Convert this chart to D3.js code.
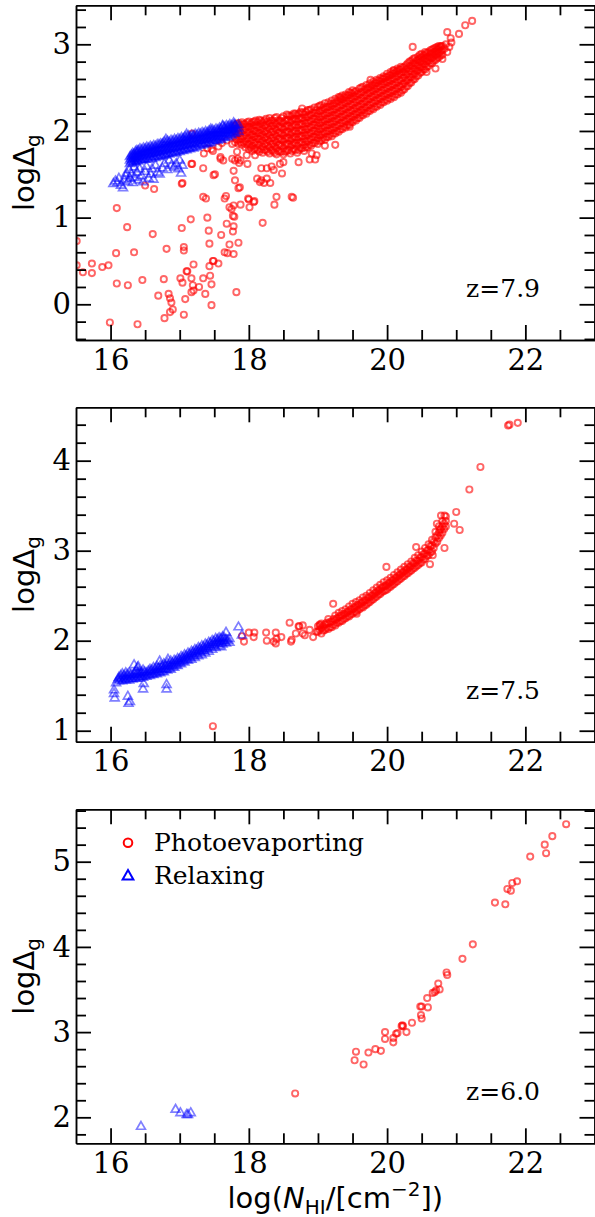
<!DOCTYPE html>
<html><head><meta charset="utf-8">
<script src="https://cdn.jsdelivr.net/npm/d3@7"></script>
<style>body{margin:0;background:#fff}svg{display:block}</style></head>
<body><svg id="c" width="595" height="1217"></svg>
<script>
// ---------- tick values ----------
const xMajor=[16,18,20,22];
const xMinor=[16.5,17,17.5,18.5,19,19.5,20.5,21,21.5,22.5];
const y1Major=[0,1,2,3];
const y1Minor=[-0.4,-0.2,0.2,0.4,0.6,0.8,1.2,1.4,1.6,1.8,2.2,2.4,2.6,2.8,3.2,3.4];
const y2Major=[1,2,3,4];
const y2Minor=[1.2,1.4,1.6,1.8,2.2,2.4,2.6,2.8,3.2,3.4,3.6,3.8,4.2,4.4];
const y3Major=[2,3,4,5];
const y3Minor=[1.8,2.2,2.4,2.6,2.8,3.2,3.4,3.6,3.8,4.2,4.4,4.6,4.8,5.2,5.4,5.6];
const zLabels=["z=7.9","z=7.5","z=6.0"];
const legendLabels=["Photoevaporting","Relaxing"];

// ---------- z=7.9 : Photoevaporating (dense cloud as columns x:[y...]) ----------
const p1RedCols=[
[17.80,[1.87,1.93,2.00,2.06]],[17.85,[1.85,1.90,1.97,2.03,2.09]],[17.90,[1.84,1.91,1.98,2.05,2.10]],
[17.95,[1.81,1.88,1.95,2.02,2.08]],[18.00,[1.79,1.85,1.92,1.99,2.05,2.11]],[18.05,[1.77,1.83,1.90,1.96,2.03,2.10]],
[18.10,[1.80,1.87,1.94,2.00,2.07,2.12]],[18.15,[1.76,1.84,1.91,1.98,2.05,2.13]],[18.20,[1.75,1.82,1.89,1.96,2.03,2.10]],
[18.25,[1.78,1.86,1.93,2.00,2.07,2.14]],[18.30,[1.74,1.81,1.88,1.95,2.02,2.09,2.15]],[18.35,[1.77,1.85,1.92,1.99,2.06,2.12]],
[18.40,[1.73,1.80,1.87,1.94,2.01,2.08,2.16]],[18.45,[1.76,1.84,1.91,1.98,2.05,2.12]],[18.50,[1.73,1.80,1.88,1.95,2.02,2.09,2.17]],
[18.55,[1.77,1.85,1.92,1.99,2.06,2.13,2.19]],[18.60,[1.74,1.82,1.89,1.96,2.03,2.10,2.17]],[18.65,[1.79,1.86,1.93,2.00,2.07,2.14,2.20]],
[18.70,[1.75,1.83,1.90,1.97,2.04,2.11,2.18]],[18.75,[1.80,1.87,1.94,2.01,2.08,2.15,2.22]],[18.80,[1.77,1.84,1.91,1.98,2.05,2.12,2.19]],
[18.85,[1.81,1.88,1.95,2.02,2.09,2.16,2.24]],[18.90,[1.83,1.90,1.97,2.04,2.11,2.18,2.25]],[18.95,[1.86,1.93,2.00,2.07,2.14,2.21,2.27]],
[19.00,[1.85,1.92,1.99,2.06,2.13,2.20,2.28]],[19.05,[1.89,1.96,2.03,2.10,2.17,2.24,2.30]],[19.10,[1.90,1.97,2.04,2.11,2.18,2.25,2.32]],
[19.15,[1.93,2.00,2.07,2.14,2.21,2.28,2.33]],[19.20,[1.94,2.01,2.08,2.15,2.22,2.29,2.35]],[19.25,[1.97,2.04,2.11,2.18,2.25,2.32,2.37]],
[19.30,[1.99,2.06,2.13,2.20,2.27,2.34,2.39]],[19.35,[2.02,2.09,2.16,2.23,2.30,2.36,2.41]],[19.40,[2.04,2.11,2.18,2.25,2.32,2.38,2.42]],
[19.45,[2.07,2.14,2.21,2.28,2.35,2.41,2.45]],[19.50,[2.10,2.16,2.23,2.30,2.37,2.43,2.47]],[19.55,[2.12,2.19,2.26,2.33,2.40,2.46]],
[19.60,[2.15,2.21,2.28,2.35,2.42,2.49]],[19.65,[2.18,2.24,2.31,2.38,2.45,2.51]],[19.70,[2.20,2.27,2.34,2.41,2.48,2.53]],
[19.75,[2.23,2.30,2.37,2.44,2.50,2.55]],[19.80,[2.25,2.32,2.39,2.46,2.52,2.57]],[19.85,[2.28,2.35,2.42,2.49,2.55,2.59]],
[19.90,[2.30,2.37,2.44,2.51,2.57,2.61]],[19.95,[2.33,2.40,2.47,2.54,2.60,2.63]],[20.00,[2.35,2.42,2.49,2.56,2.62,2.66]],
[20.05,[2.37,2.44,2.51,2.58,2.64,2.68]],[20.10,[2.39,2.46,2.53,2.60,2.66,2.70]],[20.15,[2.42,2.49,2.56,2.63,2.69,2.72]],
[20.20,[2.44,2.51,2.58,2.65,2.71,2.74]],[20.25,[2.48,2.55,2.62,2.68,2.74]],[20.30,[2.52,2.59,2.66,2.72,2.78]],
[20.35,[2.56,2.62,2.69,2.75,2.81]],[20.40,[2.60,2.66,2.72,2.78,2.84]],[20.45,[2.64,2.70,2.76,2.82,2.86]],
[20.50,[2.68,2.74,2.80,2.85,2.89]],[20.55,[2.71,2.77,2.83,2.88,2.91]],[20.60,[2.75,2.81,2.86,2.91]],
[20.65,[2.78,2.84,2.89,2.94]],[20.70,[2.82,2.87,2.92,2.96]],[20.75,[2.85,2.90,2.95]],[20.80,[2.88,2.93,2.98]]
];
const p1RedCols2=[
[17.825,[1.90,1.96,2.03,2.08]],[17.875,[1.87,1.94,2.01,2.07]],[17.925,[1.86,1.94,2.01,2.08]],
[17.975,[1.84,1.91,1.98,2.05,2.10]],[18.025,[1.81,1.88,1.95,2.02,2.08]],[18.075,[1.79,1.86,1.93,2.00,2.06,2.11]],
[18.125,[1.78,1.84,1.91,1.97,2.04,2.10]],[18.175,[1.79,1.87,1.94,2.01,2.08,2.12]],[18.225,[1.78,1.85,1.92,1.99,2.06,2.12]],
[18.275,[1.76,1.83,1.90,1.97,2.04,2.11]],[18.325,[1.78,1.85,1.92,1.99,2.06,2.12]],[18.375,[1.75,1.82,1.89,1.96,2.03,2.09,2.15]],
[18.425,[1.77,1.84,1.91,1.98,2.05,2.12]],[18.475,[1.76,1.83,1.90,1.97,2.04,2.10,2.15]],[18.525,[1.76,1.84,1.91,1.98,2.05,2.12]],
[18.575,[1.78,1.85,1.92,1.99,2.06,2.13,2.18]],[18.625,[1.77,1.84,1.91,1.98,2.05,2.12,2.18]],[18.675,[1.78,1.86,1.93,2.00,2.07,2.14,2.20]],
[18.725,[1.78,1.86,1.93,2.00,2.07,2.14,2.20]],[18.775,[1.80,1.87,1.94,2.01,2.08,2.15,2.21]],[18.825,[1.81,1.88,1.95,2.02,2.09,2.16,2.22]],
[18.875,[1.84,1.91,1.98,2.05,2.12,2.19,2.24]],[18.925,[1.86,1.93,2.00,2.07,2.14,2.21]],[18.975,[1.89,1.96,2.03,2.10,2.17,2.24]],
[19.025,[1.88,1.95,2.02,2.09,2.16,2.23,2.29]],[19.075,[1.92,1.99,2.06,2.13,2.20,2.27]],[19.125,[1.93,2.00,2.07,2.14,2.21,2.28]],
[19.175,[1.96,2.03,2.10,2.17,2.24,2.31]],[19.225,[1.97,2.04,2.11,2.18,2.25,2.32]],[19.275,[2.00,2.07,2.14,2.21,2.28,2.35]],
[19.325,[2.02,2.09,2.16,2.23,2.30,2.37]],[19.375,[2.05,2.12,2.19,2.26,2.33,2.39]],[19.425,[2.07,2.14,2.21,2.28,2.35,2.41]],
[19.475,[2.10,2.17,2.24,2.31,2.38,2.44]],[19.525,[2.13,2.19,2.26,2.33,2.40,2.45]],[19.575,[2.15,2.22,2.29,2.36,2.43]],
[19.625,[2.18,2.24,2.31,2.38,2.45,2.50]],[19.675,[2.21,2.27,2.34,2.41,2.48]],[19.725,[2.23,2.30,2.37,2.44,2.50]],
[19.775,[2.26,2.33,2.40,2.47,2.53]],[19.825,[2.28,2.35,2.42,2.49,2.55]],[19.875,[2.31,2.38,2.45,2.52,2.58]],
[19.925,[2.33,2.40,2.47,2.54,2.60]],[19.975,[2.36,2.43,2.50,2.57,2.62]],[20.025,[2.38,2.45,2.52,2.59,2.64]],
[20.075,[2.40,2.47,2.54,2.61,2.66]],[20.125,[2.42,2.49,2.56,2.63,2.68]],[20.175,[2.45,2.52,2.59,2.66,2.71]],
[20.225,[2.47,2.54,2.61,2.68,2.73]],[20.275,[2.51,2.58,2.65,2.71,2.76]],[20.325,[2.55,2.62,2.69,2.75,2.80]],
[20.375,[2.59,2.65,2.72,2.78,2.83]],[20.425,[2.63,2.69,2.75,2.81]],[20.475,[2.67,2.73,2.79,2.84,2.88]],
[20.525,[2.71,2.77,2.82,2.87]],[20.575,[2.74,2.80,2.85,2.90]],[20.625,[2.78,2.84,2.89,2.93]],
[20.675,[2.81,2.86,2.91,2.95]],[20.725,[2.84,2.89,2.94,2.97]],[20.775,[2.87,2.92,2.97]]
];
const p1RedScatter=[
[15.51,0.73],[15.51,0.45],[15.60,0.37],[15.73,0.47],[15.73,0.36],[15.88,0.43],[15.97,0.45],[15.99,-0.21],
[16.09,1.11],[16.08,0.59],[16.09,0.24],[16.24,0.89],[16.25,0.22],[16.34,0.60],[16.39,-0.23],[16.46,0.28],
[16.50,1.37],[16.63,1.33],[16.61,0.81],[16.69,0.10],[16.77,0.29],[16.78,-0.16],[16.81,0.64],[16.84,0.12],
[16.86,0.07],[16.88,0.02],[16.90,-0.06],[16.86,-0.09],[17.01,0.30],[17.04,0.25],[17.03,0.88],[17.04,1.40],
[17.06,0.66],[17.06,0.62],[17.08,0.06],[17.06,-0.12],[17.10,0.38],[17.11,0.38],[17.17,0.30],[17.16,0.98],
[17.20,0.46],[17.19,0.22],[17.20,0.16],[17.17,0.14],[17.17,1.62],[17.28,0.20],[17.34,0.30],[17.37,0.12],
[17.34,1.57],[17.34,1.24],[17.38,1.22],[17.40,1.00],[17.42,0.85],[17.43,0.70],[17.44,0.33],[17.46,-0.01],
[17.46,0.23],[17.43,0.44],[17.48,0.50],[17.49,0.50],[17.56,0.47],[17.51,1.50],[17.60,0.80],[17.65,0.60],
[17.69,0.59],[17.78,0.58],[17.72,0.69],[17.85,0.71],[17.82,0.14],[17.68,0.93],[17.78,0.90],[17.77,0.84],
[17.79,1.01],[17.77,1.02],[17.75,1.10],[17.72,1.12],[17.78,1.14],[17.88,1.15],[18.01,1.12],[17.99,1.22],
[18.08,1.19],[17.67,1.25],[17.65,1.22],[17.80,1.43],[17.87,1.35],[18.20,0.94],[18.12,1.45],[18.18,1.43],
[18.22,1.40],[17.78,1.54],[17.48,1.77],[17.59,1.68],[17.63,1.66],[17.76,1.68],[17.84,1.68],[17.86,1.63],
[17.98,1.62],[18.18,1.57],[18.40,1.24],[18.37,1.15],[18.62,1.24],[18.16,1.41],[18.26,1.45],[18.31,1.40],
[18.26,1.57],[18.33,1.59],[18.36,1.55],[18.48,1.51],[18.45,1.62],[18.50,1.64],[18.64,1.23],[18.72,1.64],
[18.88,1.67],[18.96,1.67],[18.98,1.72],[18.91,1.74],[19.25,1.84],[19.10,1.83],[17.18,1.97],[17.35,1.74],
[17.40,1.80],[17.46,1.79],[17.56,1.82],[17.59,1.70],[17.61,1.86],[17.49,1.49],[17.68,1.89],[17.76,1.85],
[17.83,1.76],[17.88,1.66],[17.80,1.66],[17.97,1.72],[18.09,1.72],[17.85,1.34],[18.00,1.21],[18.07,1.18],
[17.18,1.62],[17.03,1.39],[18.77,2.26],[19.32,2.39],[19.76,2.59],[20.09,2.70],[20.37,2.97],[19.46,2.05],
[20.87,3.14],[20.92,3.07],[20.93,3.02],[20.87,2.91],[21.04,3.12],[21.13,3.22],[21.23,3.27],[20.75,2.98],
[20.78,2.98],[20.57,2.68],[20.85,3.00],[20.83,2.95],[20.90,2.97],[20.70,2.72],[20.80,2.83]
];
// ---------- z=7.9 : Relaxing ----------
const p1BlueCols=[
[16.28,[1.62,1.66,1.70]],[16.32,[1.63,1.67,1.71,1.74]],[16.36,[1.64,1.68,1.72,1.76]],[16.40,[1.65,1.69,1.73,1.77]],
[16.45,[1.66,1.70,1.74,1.78]],[16.50,[1.67,1.71,1.75,1.79]],[16.55,[1.67,1.72,1.76,1.80]],[16.60,[1.68,1.73,1.77,1.81]],
[16.65,[1.69,1.74,1.78,1.82]],[16.70,[1.70,1.75,1.79,1.84]],[16.75,[1.71,1.76,1.80,1.85]],[16.80,[1.72,1.77,1.81,1.86]],
[16.85,[1.73,1.78,1.82,1.87]],[16.90,[1.74,1.79,1.84,1.88]],[16.95,[1.75,1.80,1.85,1.89]],[17.00,[1.76,1.81,1.86,1.90]],
[17.05,[1.77,1.82,1.87,1.91]],[17.10,[1.78,1.83,1.88,1.92]],[17.15,[1.79,1.84,1.89,1.93]],[17.20,[1.80,1.85,1.90,1.94]],
[17.25,[1.81,1.86,1.91,1.95]],[17.30,[1.83,1.88,1.92,1.96]],[17.35,[1.84,1.89,1.93,1.97]],[17.40,[1.85,1.90,1.94,1.98]],
[17.45,[1.86,1.91,1.95,1.99]],[17.50,[1.88,1.92,1.96,2.00]],[17.55,[1.89,1.93,1.97,2.01]],[17.60,[1.90,1.94,1.98,2.02]],
[17.65,[1.92,1.96,2.00,2.04]],[17.70,[1.93,1.97,2.01,2.05]],[17.75,[1.95,1.99,2.03,2.06]],[17.80,[1.97,2.01,2.05,2.07]],
[17.85,[1.99,2.03,2.07]]
];
const p1BlueCols2=[
[16.30,[1.64,1.68,1.72]],[16.34,[1.65,1.69,1.73]],[16.38,[1.66,1.70,1.74,1.77]],[16.425,[1.67,1.71,1.75,1.79]],
[16.475,[1.68,1.72,1.76,1.80]],[16.525,[1.69,1.73,1.77,1.81]],[16.575,[1.70,1.74,1.78,1.82]],[16.625,[1.70,1.75,1.79,1.83]],
[16.675,[1.71,1.76,1.80,1.84]],[16.725,[1.72,1.77,1.81,1.85]],[16.775,[1.73,1.78,1.83,1.87]],[16.825,[1.74,1.79,1.84,1.88]],
[16.875,[1.75,1.80,1.85,1.89]],[16.925,[1.76,1.81,1.86,1.90]],[16.975,[1.77,1.82,1.87,1.91]],[17.025,[1.78,1.83,1.88,1.92]],
[17.075,[1.79,1.84,1.89,1.93]],[17.125,[1.80,1.85,1.90,1.94]],[17.175,[1.81,1.86,1.91,1.95]],[17.225,[1.82,1.87,1.92,1.96]],
[17.275,[1.84,1.89,1.93,1.97]],[17.325,[1.85,1.90,1.94,1.98]],[17.375,[1.86,1.91,1.95,1.99]],[17.425,[1.87,1.92,1.96,2.00]],
[17.475,[1.89,1.93,1.97,2.01]],[17.525,[1.90,1.94,1.98,2.02]],[17.575,[1.91,1.95,1.99,2.03]],[17.625,[1.93,1.97,2.01,2.05]],
[17.675,[1.94,1.98,2.02,2.06]],[17.725,[1.96,2.00,2.04,2.07]],[17.775,[1.98,2.02,2.06]]
];
const p1BlueScatter=[
[16.04,1.39],[16.07,1.42],[16.10,1.40],[16.12,1.45],[16.15,1.37],[16.18,1.34],[16.20,1.43],[16.22,1.48],
[16.23,1.51],[16.25,1.41],[16.27,1.55],[16.28,1.45],[16.30,1.50],[16.32,1.40],[16.34,1.58],[16.35,1.46],
[16.38,1.52],[16.40,1.43],[16.42,1.56],[16.45,1.48],[16.47,1.41],[16.50,1.53],[16.52,1.59],[16.55,1.45],
[16.58,1.50],[16.60,1.56],[16.62,1.44],[16.65,1.60],[16.68,1.52],[16.71,1.50],[16.75,1.57],[16.78,1.62],
[16.82,1.55],[16.85,1.66],[16.88,1.60],[16.92,1.58],[16.95,1.62],[16.98,1.56],[17.02,1.51],[17.04,1.60],
[17.00,1.66],[16.80,1.90],[17.10,1.96],[17.45,2.02],[17.62,2.06],[17.78,2.09]
];

// ---------- z=7.5 ----------
const p2RedCols=[
[19.00,[2.10,2.16]],[19.05,[2.08,2.14,2.19]],[19.10,[2.12,2.18]],[19.15,[2.13,2.19,2.24]],[19.20,[2.15,2.21]],
[19.25,[2.17,2.23,2.28]],[19.30,[2.20,2.26,2.31]],[19.35,[2.22,2.28,2.33]],[19.40,[2.25,2.30,2.35]],
[19.45,[2.27,2.33,2.38]],[19.50,[2.30,2.35,2.41]],[19.55,[2.32,2.38,2.43]],[19.60,[2.35,2.40,2.45]],
[19.65,[2.37,2.43,2.48]],[19.70,[2.40,2.45,2.50]],[19.75,[2.43,2.48,2.53]],[19.80,[2.46,2.51,2.56]],
[19.85,[2.49,2.54,2.59]],[19.90,[2.52,2.57,2.62]],[19.95,[2.55,2.60,2.65]],[20.00,[2.57,2.62,2.67]],
[20.05,[2.60,2.65,2.70]],[20.10,[2.63,2.68,2.73]],[20.15,[2.66,2.71,2.76]],[20.20,[2.69,2.74,2.79]],
[20.25,[2.72,2.77,2.82]],[20.30,[2.75,2.80,2.85]],[20.35,[2.78,2.83,2.88]],[20.40,[2.81,2.86,2.92]],
[20.45,[2.84,2.89,2.95]],[20.50,[2.87,2.93,2.99]],[20.55,[2.91,2.97,3.03]],[20.60,[2.95,3.01,3.07]],
[20.65,[2.99,3.06,3.12]],[20.70,[3.08,3.15,3.21]],[20.75,[3.14,3.20,3.27]],[20.80,[3.20,3.27,3.33]],
[20.85,[3.27,3.33,3.38]]
];
const p2RedCols2=[
[19.025,[2.12,2.18]],[19.075,[2.11,2.16]],[19.125,[2.14,2.20]],[19.175,[2.15,2.21]],[19.225,[2.18,2.24]],
[19.275,[2.20,2.25]],[19.325,[2.22,2.28]],[19.375,[2.24,2.30]],[19.425,[2.27,2.32]],[19.475,[2.29,2.35]],
[19.525,[2.32,2.37]],[19.575,[2.34,2.40]],[19.625,[2.37,2.42]],[19.675,[2.39,2.45]],[19.725,[2.42,2.48]],
[19.775,[2.45,2.50]],[19.825,[2.48,2.53]],[19.875,[2.51,2.56]],[19.925,[2.54,2.59]],[19.975,[2.56,2.61]],
[20.025,[2.59,2.64]],[20.075,[2.62,2.67]],[20.125,[2.65,2.70]],[20.175,[2.68,2.73]],[20.225,[2.71,2.76]],
[20.275,[2.74,2.79]],[20.325,[2.77,2.82]],[20.375,[2.80,2.86]],[20.425,[2.83,2.89]],[20.475,[2.86,2.92]],
[20.525,[2.90,2.96]],[20.575,[2.94,3.00]],[20.625,[2.98,3.05]],[20.675,[3.03,3.10]],[20.725,[3.10,3.17]],
[20.775,[3.17,3.24]],[20.825,[3.24,3.30]]
];
const p2RedScatter=[
[17.48,1.05],[17.90,2.05],[17.93,1.99],[18.00,2.09],[18.08,2.09],[18.07,2.04],[18.25,2.09],[18.39,2.09],
[18.26,2.00],[18.36,1.99],[18.39,1.97],[18.40,2.02],[18.47,2.04],[18.59,2.20],[18.61,1.99],[18.68,2.08],
[18.73,2.16],[18.78,2.17],[18.78,2.08],[18.62,2.01],[18.81,2.06],[18.98,2.10],[18.72,2.16],[18.88,2.12],
[18.93,2.04],[19.03,2.17],[19.22,2.41],[19.56,2.30],[19.99,2.82],[20.62,2.85],[20.83,3.03],[20.97,3.30],
[21.05,3.23],[21.00,3.43],[20.78,3.39],[20.83,3.39],[20.72,3.30],[20.76,3.23],[21.19,3.68],[21.35,3.93],
[21.77,4.40],[21.75,4.39],[21.89,4.42],[20.42,3.04],[20.66,2.95]
];
const p2BlueCols=[
[16.12,[1.55,1.59]],[16.17,[1.55,1.59,1.63]],[16.22,[1.56,1.60,1.64]],[16.27,[1.56,1.60,1.64]],[16.32,[1.57,1.61]],
[16.37,[1.58,1.62,1.66]],[16.42,[1.58,1.62,1.65]],[16.47,[1.59,1.63,1.67]],[16.52,[1.60,1.64]],
[16.57,[1.61,1.65,1.68]],[16.62,[1.62,1.66,1.70]],[16.67,[1.63,1.67,1.71]],[16.72,[1.64,1.68,1.72]],
[16.77,[1.65,1.69,1.74]],[16.82,[1.67,1.71,1.75]],[16.87,[1.68,1.72,1.77]],[16.92,[1.70,1.74,1.78]],
[16.97,[1.72,1.76,1.80]],[17.02,[1.74,1.78,1.82]],[17.07,[1.76,1.80,1.84]],[17.12,[1.78,1.82,1.86]],
[17.17,[1.79,1.84,1.88]],[17.22,[1.81,1.86,1.90]],[17.27,[1.83,1.88,1.92]],[17.32,[1.84,1.89,1.94]],
[17.37,[1.86,1.91,1.96]],[17.42,[1.88,1.93,1.98]],[17.47,[1.90,1.95,2.00]],[17.52,[1.92,1.97,2.02]],
[17.57,[1.94,1.99,2.03]],[17.62,[1.96,2.00,2.04]],[17.67,[1.97,2.01]],[17.72,[1.98,2.02]]
];
const p2BlueCols2=[
[16.145,[1.57,1.61]],[16.195,[1.57,1.61]],[16.245,[1.58,1.62]],[16.295,[1.58,1.62]],[16.345,[1.59,1.63]],
[16.395,[1.60,1.64]],[16.445,[1.60,1.64]],[16.495,[1.61,1.65]],[16.545,[1.62,1.66]],[16.595,[1.63,1.67]],
[16.645,[1.64,1.68]],[16.695,[1.65,1.69]],[16.745,[1.66,1.71]],[16.795,[1.68,1.72]],[16.845,[1.69,1.73]],
[16.895,[1.71,1.75]],[16.945,[1.73,1.77]],[16.995,[1.75,1.79]],[17.045,[1.77,1.81]],[17.095,[1.79,1.83]],
[17.145,[1.81,1.85]],[17.195,[1.83,1.87]],[17.245,[1.85,1.89]],[17.295,[1.87,1.91]],[17.345,[1.89,1.93]],
[17.395,[1.91,1.95]],[17.445,[1.93,1.97]],[17.495,[1.95,1.99]],[17.545,[1.97,2.01]],[17.595,[1.98,2.02]],
[17.645,[1.99,2.03]]
];
const p2BlueScatter=[
[16.05,1.45],[16.05,1.41],[16.06,1.36],[16.25,1.38],[16.26,1.30],[16.28,1.32],[16.34,1.73],[16.40,1.71],
[16.39,1.70],[16.47,1.46],[16.48,1.52],[16.81,1.51],[16.81,1.46],[16.71,1.77],[16.83,1.79],[17.60,1.93],
[17.67,2.09],[17.85,2.15],[17.90,2.06],[17.69,2.00],[16.11,1.57],[16.08,1.53]
];

// ---------- z=6.0 ----------
const p3Red=[
[22.59,5.44],[22.39,5.30],[22.28,5.20],[22.30,5.10],[22.07,5.06],[21.88,4.77],[21.81,4.75],[21.74,4.68],
[21.79,4.66],[21.56,4.52],[21.71,4.50],[21.24,4.03],[21.09,3.86],[20.86,3.70],[20.87,3.67],[20.74,3.57],
[20.76,3.50],[20.71,3.49],[20.69,3.47],[20.66,3.46],[20.58,3.40],[20.48,3.30],[20.50,3.30],[20.59,3.29],
[20.49,3.20],[20.50,3.16],[20.36,3.11],[20.21,3.07],[20.23,3.07],[20.28,3.00],[20.15,2.99],[20.13,2.98],
[20.09,2.93],[19.97,3.00],[19.97,2.92],[20.09,2.88],[19.91,2.78],[19.83,2.80],[19.73,2.76],[19.55,2.77],
[19.53,2.67],[19.66,2.62],[20.22,3.08],[18.67,2.28]
];
const p3Blue=[[16.44,1.89],[16.94,2.09],[17.01,2.05],[17.10,2.03],[17.12,2.03],[17.16,2.05]];

// ---------- drawing ----------
const flat = cols => cols.flatMap(([xv, ys]) => ys.map(yv => [xv, yv]));
const panels=[
  {top:5.3,bottom:340,yDomain:[-0.412,3.45],yMajor:y1Major,yMinor:y1Minor,
   red:flat(p1RedCols).concat(flat(p1RedCols2),p1RedScatter),
   blue:flat(p1BlueCols).concat(flat(p1BlueCols2),p1BlueScatter),z:zLabels[0]},
  {top:407.3,bottom:741.7,yDomain:[0.878,4.593],yMajor:y2Major,yMinor:y2Minor,
   red:flat(p2RedCols).concat(flat(p2RedCols2),p2RedScatter),
   blue:flat(p2BlueCols).concat(flat(p2BlueCols2),p2BlueScatter),z:zLabels[1]},
  {top:809.3,bottom:1143.3,yDomain:[1.695,5.615],yMajor:y3Major,yMinor:y3Minor,
   red:p3Red,blue:p3Blue,z:zLabels[2],legend:true}
];
const svg=d3.select("#c");
const L=76,R=594.5;
const serif="DejaVu Serif", sans="DejaVu Sans";
const tri=d3.symbol().type(d3.symbolTriangle).size(34);
const triBig=d3.symbol().type(d3.symbolTriangle).size(50);

panels.forEach((p,i)=>{
  const x=d3.scaleLinear().domain([15.5,23]).range([L,R]);
  const y=d3.scaleLinear().domain(p.yDomain).range([p.bottom,p.top]);
  const g=svg.append("g");
  g.append("clipPath").attr("id","clip"+i).append("rect")
    .attr("x",L).attr("y",p.top).attr("width",R-L).attr("height",p.bottom-p.top);
  const pts=g.append("g").attr("clip-path",`url(#clip${i})`);
  pts.selectAll("circle").data(p.red).join("circle")
    .attr("cx",d=>x(d[0])).attr("cy",d=>y(d[1])).attr("r",3.1)
    .attr("fill","none").attr("stroke","#ff0000").attr("stroke-opacity",0.6).attr("stroke-width",1.9);
  pts.selectAll("path.tri").data(p.blue).join("path").attr("class","tri")
    .attr("transform",d=>`translate(${x(d[0])},${y(d[1])})`).attr("d",tri)
    .attr("fill","none").attr("stroke","#0000ff").attr("stroke-opacity",0.5).attr("stroke-width",1.7);

  const ax=(gen,tx,ty)=>{
    const a=g.append("g").attr("transform",`translate(${tx},${ty})`).call(gen)
      .attr("font-family",serif).attr("font-size",29);
    a.select(".domain").attr("stroke","#000").attr("stroke-width",1.5);
    a.selectAll(".tick line").attr("stroke","#000").attr("stroke-width",1.8);
    a.selectAll(".tick text").attr("fill","#000");
    return a;
  };
  const none=()=>"";
  const fmt=d3.format("d");
  ax(d3.axisBottom(x).tickValues(xMinor).tickSize(-10).tickSizeOuter(0).tickFormat(none),0,p.bottom);
  ax(d3.axisBottom(x).tickValues(xMajor).tickSize(-15).tickSizeOuter(0).tickPadding(9).tickFormat(fmt),0,p.bottom);
  ax(d3.axisTop(x).tickValues(xMinor).tickSize(-10).tickSizeOuter(0).tickFormat(none),0,p.top);
  ax(d3.axisTop(x).tickValues(xMajor).tickSize(-15).tickSizeOuter(0).tickFormat(none),0,p.top);
  ax(d3.axisLeft(y).tickValues(p.yMinor).tickSize(-10).tickSizeOuter(0).tickFormat(none),L,0);
  ax(d3.axisLeft(y).tickValues(p.yMajor).tickSize(-15).tickSizeOuter(0).tickPadding(5).tickFormat(fmt),L,0);
  ax(d3.axisRight(y).tickValues(p.yMinor).tickSize(-10).tickSizeOuter(0).tickFormat(none),R,0);
  ax(d3.axisRight(y).tickValues(p.yMajor).tickSize(-15).tickSizeOuter(0).tickFormat(none),R,0);

  // y label
  const cy=(p.top+p.bottom)/2;
  const yl=g.append("text").attr("transform",`translate(33.5,${cy}) rotate(-90)`)
    .attr("text-anchor","middle").attr("font-family",sans).attr("font-size",29).attr("fill","#000");
  yl.append("tspan").text("logΔ");
  yl.append("tspan").attr("dy",6).attr("font-size",20).text("g");

  // z label
  g.append("text").attr("x",540).attr("y",p.bottom-43).attr("text-anchor","end")
    .attr("font-family",serif).attr("font-size",25).attr("fill","#000").text(p.z);

  if(p.legend){
    const lg=g.append("g");
    const r1=p.top+33.5, r2=p.top+67;
    lg.append("circle").attr("cx",128).attr("cy",r1).attr("r",4.3)
      .attr("fill","none").attr("stroke","#ff0000").attr("stroke-width",2);
    lg.append("path").attr("transform",`translate(128,${r2})`).attr("d",triBig)
      .attr("fill","none").attr("stroke","#0000ff").attr("stroke-width",2);
    lg.append("text").attr("x",154).attr("y",r1+8).attr("font-family",serif).attr("font-size",25)
      .attr("fill","#000").text(legendLabels[0]);
    lg.append("text").attr("x",154).attr("y",r2+8).attr("font-family",serif).attr("font-size",25)
      .attr("fill","#000").text(legendLabels[1]);

    const xl=g.append("text").attr("x",(L+R)/2).attr("y",1208).attr("text-anchor","middle")
      .attr("font-family",sans).attr("font-size",29).attr("fill","#000");
    xl.append("tspan").text("log(");
    xl.append("tspan").attr("font-style","italic").text("N");
    xl.append("tspan").attr("dy",6).attr("font-size",20).text("HI");
    xl.append("tspan").attr("dy",-6).text("/[cm");
    xl.append("tspan").attr("dy",-12).attr("font-size",20).text("−2");
    xl.append("tspan").attr("dy",12).text("])");
  }
});
</script>
</body></html>
